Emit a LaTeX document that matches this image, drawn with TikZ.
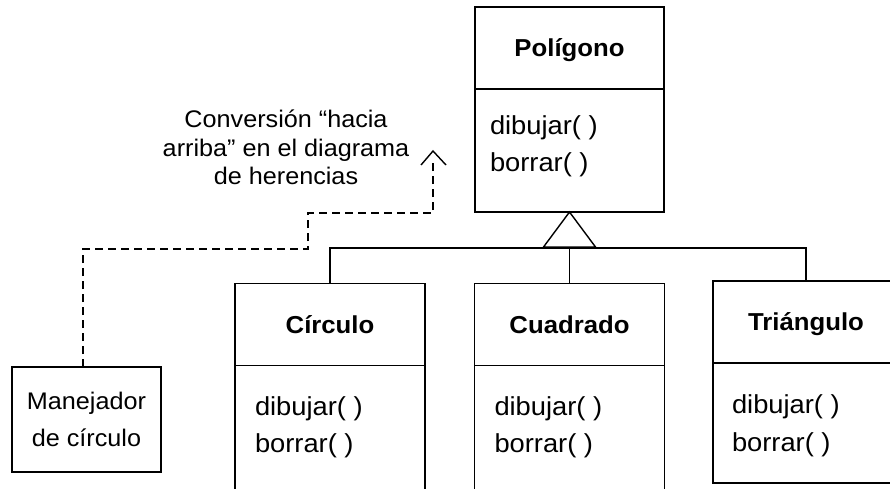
\documentclass[tikz,border=0pt]{standalone}
\usepackage{fontspec}
\setmainfont[FakeStretch=1.05]{Liberation Sans}
\begin{document}
\begin{tikzpicture}[x=1pt,y=-1pt,
  every node/.style={inner sep=0pt,outer sep=0pt},
  ln/.style={line width=1.4pt,black},
  titlebox/.style={draw,line width=1.4pt,font=\bfseries\fontsize{24.5}{29}\selectfont,text height=17.5pt,text depth=0pt},
  bodybox/.style={draw,line width=1.4pt},
  meth/.style={font=\fontsize{26}{31}\selectfont,anchor=base west},
  note/.style={font=\fontsize{24}{28.5}\selectfont,align=center},
  dashline/.style={line width=1.4pt,dash pattern=on 8pt off 5pt}
]
\useasboundingbox (0,0) rectangle (890,488);
\clip (0,0) rectangle (890,488);
% Poligono
\node[titlebox,minimum width=189,minimum height=82] (ptitle) at (569.5,48) {Polígono};
\node[bodybox,minimum width=189,minimum height=123,anchor=north] (pbody) at (ptitle.south) {};
\node[meth] (pm1) at ([shift={(15,45)}]pbody.north west) {dibujar( )};
\node[meth] (pm2) at ([shift={(15,82)}]pbody.north west) {borrar( )};
% Circulo
\node[titlebox,minimum width=190,minimum height=82] (ctitle) at (330,324.5) {Círculo};
\node[bodybox,minimum width=190,minimum height=140,anchor=north] (cbody) at (ctitle.south) {};
\node[meth] (cm1) at ([shift={(20,50)}]cbody.north west) {dibujar( )};
\node[meth] (cm2) at ([shift={(20,87)}]cbody.north west) {borrar( )};
% Cuadrado
\node[titlebox,minimum width=190,minimum height=82] (qtitle) at (569.5,324.5) {Cuadrado};
\node[bodybox,minimum width=190,minimum height=140,anchor=north] (qbody) at (qtitle.south) {};
\node[meth] (qm1) at ([shift={(20,50)}]qbody.north west) {dibujar( )};
\node[meth] (qm2) at ([shift={(20,87)}]qbody.north west) {borrar( )};
% Triangulo
\node[titlebox,minimum width=186,minimum height=82] (ttitle) at (806,322) {Triángulo};
\node[bodybox,minimum width=186,minimum height=120,anchor=north] (tbody) at (ttitle.south) {};
\node[meth] (tm1) at ([shift={(19,50)}]tbody.north west) {dibujar( )};
\node[meth] (tm2) at ([shift={(19,88)}]tbody.north west) {borrar( )};
% inheritance
\draw[ln,line join=miter] (pbody.south) -- ++(-26,35) coordinate (tl) -- ++(52,0) coordinate (tr) -- cycle;
\coordinate (tb) at ([shift={(0,36)}]pbody.south);
\draw[ln] (ctitle.north) |- (tb) -| (ttitle.north);
\draw[ln] (tb) -- (tb |- qtitle.north);
% Manejador
\node[draw,line width=1.4pt,minimum width=149,minimum height=105,font=\fontsize{24}{37}\selectfont,align=center] (mgr) at (86.5,419.5) {Manejador\\de círculo};
% note
\node[note] (nt) at (286,147.5) {Conversión “hacia\\arriba” en el diagrama\\de herencias};
% dashed upcast
\coordinate (d1) at (308,249);
\coordinate (d2) at (433,213);
\coordinate (tip) at (433,151);
\draw[dashline] ([xshift=-3.5pt]mgr.north) |- (d1) |- (d2) -- ([shift={(0,10)}]tip);
\draw[ln,line join=miter] ([shift={(-12,14)}]tip) -- (tip) -- ([shift={(13,14)}]tip);
\end{tikzpicture}
\end{document}
